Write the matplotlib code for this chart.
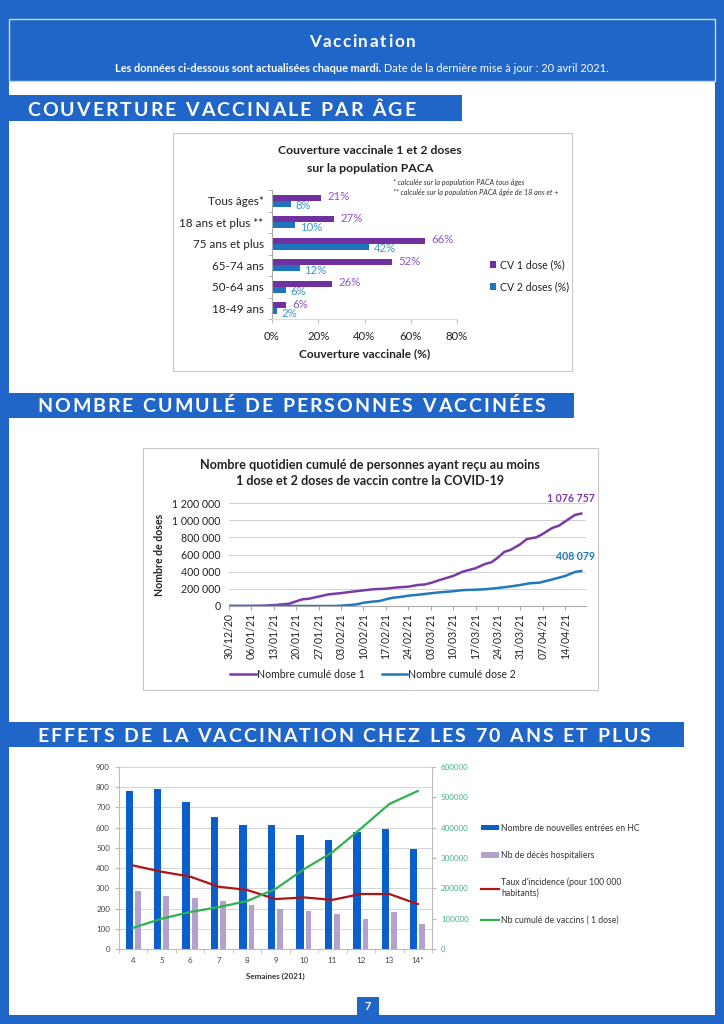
import matplotlib
matplotlib.use("Agg")
import matplotlib.pyplot as plt
import numpy as np
import pandas as pd
from matplotlib.patches import Rectangle
from matplotlib.font_manager import FontProperties
from matplotlib.textpath import TextToPath

# ---- data: coverage by age ----
age_groups = ["Tous âges*", "18 ans et plus **", "75 ans et plus", "65-74 ans", "50-64 ans", "18-49 ans"]
cv_dose1 = [21, 27, 66, 52, 26, 6]
cv_dose2 = [8, 10, 42, 12, 6, 2]

# ---- data: cumulative vaccinated ----
dose1_dates = ["30/12/20", "06/01/21", "10/01/21", "13/01/21", "16/01/21", "18/01/21", "20/01/21",
               "22/01/21", "24/01/21", "27/01/21", "30/01/21", "03/02/21", "06/02/21", "10/02/21",
               "13/02/21", "17/02/21", "20/02/21", "24/02/21", "27/02/21", "01/03/21", "03/03/21",
               "06/03/21", "10/03/21", "13/03/21", "15/03/21", "17/03/21", "20/03/21", "22/03/21",
               "24/03/21", "26/03/21", "28/03/21", "31/03/21", "02/04/21", "05/04/21", "07/04/21",
               "10/04/21", "12/04/21", "14/04/21", "17/04/21", "19/04/21"]
dose1_values = [0, 0, 3000, 10000, 20000, 28000, 55000,
                78000, 85000, 110000, 135000, 150000, 165000, 182000,
                195000, 202000, 215000, 225000, 245000, 250000, 268000,
                305000, 350000, 400000, 420000, 440000, 490000, 510000,
                565000, 630000, 655000, 720000, 780000, 800000, 840000,
                910000, 935000, 985000, 1060000, 1076757]
dose2_dates = ["30/12/20", "01/02/21", "03/02/21", "06/02/21", "08/02/21", "10/02/21", "13/02/21",
               "15/02/21", "17/02/21", "19/02/21", "22/02/21", "24/02/21", "28/02/21", "03/03/21",
               "06/03/21", "10/03/21", "13/03/21", "17/03/21", "20/03/21", "24/03/21", "28/03/21",
               "31/03/21", "03/04/21", "06/04/21", "10/04/21", "14/04/21", "17/04/21", "19/04/21"]
dose2_values = [0, 0, 4000, 12000, 20000, 38000, 52000,
                58000, 78000, 95000, 108000, 120000, 135000, 148000,
                160000, 172000, 185000, 190000, 195000, 210000, 228000,
                245000, 265000, 272000, 310000, 350000, 395000, 408079]

# ---- data: effects 70+ ----
weeks = ["4", "5", "6", "7", "8", "9", "10", "11", "12", "13", "14*"]
hc_entries = [783, 793, 725, 655, 615, 615, 562, 537, 578, 593, 493]
hosp_deaths = [287, 262, 250, 235, 220, 200, 188, 175, 150, 183, 124]
incidence = [413, 382, 358, 308, 292, 247, 255, 243, 272, 272, 222]
cum_vaccines = [70000, 100000, 122000, 138000, 158000, 198000, 263000, 319000, 397000, 478000, 521000]

BLUE = "#1f66c8"
PURPLE = "#7030a0"
BLUE2 = "#1f74bf"
FONT = "Lato"

W, H = 724, 1024
fig = plt.figure(figsize=(W / 100, H / 100), dpi=100)
fig.patch.set_facecolor(BLUE)
plt.rcParams["font.family"] = [FONT, "DejaVu Sans"]


def fx(x):
    return x / W


def fy(y):
    return 1 - y / H


def rect(x0, y0, x1, y1, z=-10, **kw):
    fig.add_artist(Rectangle((fx(x0), fy(y1)), (x1 - x0) / W, (y1 - y0) / H,
                             transform=fig.transFigure, zorder=z, **kw))


def axes_px(x0, y0, x1, y1):
    a = fig.add_axes([fx(x0), fy(y1), (x1 - x0) / W, (y1 - y0) / H])
    a.patch.set_alpha(0)
    return a


ttp = TextToPath()


def tracked(x, y, s, size, spacing, color="white", weight="bold", center=False):
    prop = FontProperties(family=FONT, weight=weight, size=size)
    widths = []
    for ch in s:
        if ch == " ":
            widths.append(0.28 * size * 100 / 72)
        else:
            w, h, d = ttp.get_text_width_height_descent(ch, prop, ismath=False)
            widths.append(w * 100 / 72)
    total = sum(widths) + spacing * (len(s) - 1)
    if center:
        x = x - total / 2
    for ch, w in zip(s, widths):
        fig.text(fx(x), fy(y), ch, fontproperties=prop, color=color, va="baseline", ha="left")
        x += w + spacing


# ---- page frame ----
rect(9, 82, 715, 1015, facecolor="white", edgecolor="none", z=-20)
rect(9, 19, 715, 81, facecolor=BLUE, edgecolor="#c9d9f2", linewidth=1)
tracked(362, 47, "Vaccination", 12.3, 1.7, center=True, weight="bold")
sub_bold = "Les données ci-dessous sont actualisées chaque mardi."
sub_reg = " Date de la dernière mise à jour : 20 avril 2021."
renderer = fig.canvas.get_renderer()
t1 = fig.text(0, fy(69), sub_bold, fontsize=7.9, fontweight="bold", color="white", va="center")
t2 = fig.text(0, fy(69), sub_reg, fontsize=7.9, color="white", va="center")
w1 = t1.get_window_extent(renderer).width
w2 = t2.get_window_extent(renderer).width
start = 362 - (w1 + w2) / 2
t1.set_x(fx(start))
t2.set_x(fx(start + w1))

# section headers
rect(9, 95, 462, 121, facecolor=BLUE, edgecolor="none")
tracked(27, 115.5, "COUVERTURE VACCINALE PAR ÂGE", 14, 2.1)
rect(9, 393, 574, 418, facecolor=BLUE, edgecolor="none")
tracked(37, 412.5, "NOMBRE CUMULÉ DE PERSONNES VACCINÉES", 14, 2.1)
rect(9, 722, 684, 747, facecolor=BLUE, edgecolor="none")
tracked(37, 741.5, "EFFETS DE LA VACCINATION CHEZ LES 70 ANS ET PLUS", 14, 2.1)

# page number
rect(357, 997, 379, 1016, facecolor=BLUE, edgecolor="none")
fig.text(fx(368), fy(1006), "7", color="white", fontsize=8, fontweight="bold", ha="center", va="center")

# ---- chart 1: coverage by age ----
rect(173, 133, 572, 371, facecolor="white", edgecolor="#c8c8c8", linewidth=0.8)
fig.text(fx(370), fy(151), "Couverture vaccinale 1 et 2 doses", fontsize=8.8, fontweight="bold",
         ha="center", va="center", color="#222222")
fig.text(fx(370), fy(168), "sur la population PACA", fontsize=8.8, fontweight="bold",
         ha="center", va="center", color="#222222")
fig.text(fx(393), fy(183), "* calculée sur la population PACA tous âges", fontsize=5.2,
         style="italic", color="#333333", va="center")
fig.text(fx(393), fy(193), "** calculée sur la population PACA âgée de 18 ans et +", fontsize=5.2,
         style="italic", color="#333333", va="center")

ax1 = axes_px(272, 190, 457, 319)
pos = np.arange(len(age_groups))
bh = 0.28
ax1.barh(pos - bh / 2, cv_dose1, height=bh, color=PURPLE, label="CV 1 dose (%)")
ax1.barh(pos + bh / 2, cv_dose2, height=bh, color=BLUE2, label="CV 2 doses (%)")
for p, v1, v2 in zip(pos, cv_dose1, cv_dose2):
    ax1.text(v1 + 2.8, p - bh / 2 - 0.05, f"{v1}%", color="#8f55c2", fontsize=8.2, va="center")
    ax1.text(v2 + 2.0, p + bh / 2 + 0.1, f"{v2}%", color="#3d94d2", fontsize=8.2, va="center")
ax1.set_ylim(len(age_groups) - 0.5, -0.5)
ax1.set_xlim(0, 80)
ax1.set_yticks(pos)
ax1.set_yticklabels(age_groups, fontsize=8.4, color="#222222")
ax1.set_xticks([0, 20, 40, 60, 80])
ax1.set_xticklabels(["0%", "20%", "40%", "60%", "80%"], fontsize=8.2, color="#222222")
ax1.set_yticks(np.arange(len(age_groups) + 1) - 0.5, minor=True)
ax1.tick_params(axis="y", which="major", length=0, pad=6)
ax1.tick_params(axis="y", which="minor", length=3, color="#aaaaaa")
ax1.tick_params(axis="x", length=3, color="#bbbbbb", pad=6)
ax1.set_xlabel("Couverture vaccinale (%)", fontsize=8.6, fontweight="bold", color="#222222", labelpad=4)
for s in ["top", "right"]:
    ax1.spines[s].set_visible(False)
ax1.spines["left"].set_color("#aaaaaa")
ax1.spines["bottom"].set_color("#dddddd")
ax1.legend(loc="center left", bbox_to_anchor=(fx(480), fy(276)), bbox_transform=fig.transFigure,
           frameon=False, fontsize=7.6, handlelength=0.6, handleheight=0.6, labelspacing=1.05,
           handletextpad=0.35, labelcolor="#222222")

# ---- chart 2: cumulative vaccinated ----
rect(143, 448, 598, 690, facecolor="white", edgecolor="#c8c8c8", linewidth=0.8)
fig.text(fx(370), fy(465), "Nombre quotidien cumulé de personnes ayant reçu au moins", fontsize=9.1,
         fontweight="bold", ha="center", va="center", color="#222222")
fig.text(fx(370), fy(481), "1 dose et 2 doses de vaccin contre la COVID-19", fontsize=9.1,
         fontweight="bold", ha="center", va="center", color="#222222")

ax2 = axes_px(229, 503, 586, 606)
d1 = pd.to_datetime(dose1_dates, format="%d/%m/%y")
d2 = pd.to_datetime(dose2_dates, format="%d/%m/%y")
ax2.plot(d1, dose1_values, color="#7b3aa6", lw=1.8, label="Nombre cumulé dose 1")
ax2.plot(d2, dose2_values, color="#2079bd", lw=1.8, label="Nombre cumulé dose 2")
ax2.set_ylim(0, 1200000)
ax2.set_yticks(np.arange(0, 1200001, 200000))
ax2.set_yticklabels([f"{v:,.0f}".replace(",", " ") for v in np.arange(0, 1200001, 200000)],
                    fontsize=7.6, color="#222222")
ticks = pd.date_range("2020-12-30", "2021-04-14", freq="7D")
ax2.set_xticks(ticks)
ax2.set_xticklabels([t.strftime("%d/%m/%y") for t in ticks], rotation=90, fontsize=7.6, color="#222222")
ax2.set_xlim(pd.Timestamp("2020-12-30"), pd.Timestamp("2021-04-20 12:00"))
ax2.grid(axis="y", color="#d0d0d0", lw=0.7)
ax2.set_axisbelow(True)
ax2.tick_params(axis="y", length=0, pad=6)
ax2.tick_params(axis="x", length=3, color="#aaaaaa", pad=2)
for s in ["top", "right", "left"]:
    ax2.spines[s].set_visible(False)
ax2.spines["bottom"].set_color("#aaaaaa")
ax2.set_ylabel("Nombre de doses", fontsize=7.6, fontweight="bold", color="#222222", labelpad=5)
ax2.annotate(f"{dose1_values[-1]:,}".replace(",", " "), (d1[-1], dose1_values[-1]),
             xytext=(10, 8), textcoords="offset points", ha="right", fontsize=7.6,
             fontweight="bold", color="#7b3aa6")
ax2.annotate(f"{dose2_values[-1]:,}".replace(",", " "), (d2[-1], dose2_values[-1]),
             xytext=(10, 8), textcoords="offset points", ha="right", fontsize=7.6,
             fontweight="bold", color="#2079bd")
ax2.legend(loc="center", bbox_to_anchor=(fx(373), fy(674)), bbox_transform=fig.transFigure,
           ncol=2, frameon=False, fontsize=7.6, handlelength=2.4, handletextpad=0.1,
           columnspacing=1.6, labelcolor="#222222")

# ---- chart 3: effects 70+ ----
ax3 = axes_px(119, 767, 432, 949)
x = np.arange(len(weeks))
b1 = ax3.bar(x - 0.14, hc_entries, width=0.26, color="#0a5fcc", label="Nombre de nouvelles entrées en HC")
b2 = ax3.bar(x + 0.16, hosp_deaths, width=0.2, color="#b3a3cc", label="Nb de décès hospitaliers")
l1, = ax3.plot(x, incidence, color="#b01515", lw=1.6, label="Taux d'incidence (pour 100 000\nhabitants)")
ax3.set_ylim(0, 900)
ax3.set_xlim(-0.5, len(weeks) - 0.5)
ax3.set_yticks(np.arange(0, 901, 100))
ax3.tick_params(axis="y", labelsize=5.8, labelcolor="#444444", length=3, color="#bbbbbb")
ax3.set_xticks(x)
ax3.set_xticklabels(weeks)
ax3.set_xticks(np.arange(len(weeks) + 1) - 0.5, minor=True)
ax3.tick_params(axis="x", which="major", length=0, labelsize=5.8, labelcolor="#444444", pad=6)
ax3.tick_params(axis="x", which="minor", length=3, color="#bbbbbb")
ax3.grid(axis="y", color="#cfcfcf", lw=0.6)
ax3.set_axisbelow(True)
ax3.set_xlabel("Semaines (2021)", fontsize=5.8, fontweight="bold", color="#333333", labelpad=6)
for s in ["top", "right"]:
    ax3.spines[s].set_visible(False)
ax3.spines["left"].set_color("#bbbbbb")
ax3.spines["bottom"].set_color("#bbbbbb")

ax3b = ax3.twinx()
l2, = ax3b.plot(x, cum_vaccines, color="#2eb24f", lw=1.6, label="Nb cumulé de vaccins ( 1 dose)")
ax3b.set_ylim(0, 600000)
ax3b.set_yticks(np.arange(0, 600001, 100000))
ax3b.tick_params(axis="y", labelsize=5.8, labelcolor="#45b088", length=3, color="#bbbbbb")
for s in ["top", "left", "bottom"]:
    ax3b.spines[s].set_visible(False)
ax3b.spines["right"].set_color("#bbbbbb")

ax3b.legend([b1, b2, l1, l2], [b1.get_label(), b2.get_label(), l1.get_label(), l2.get_label()],
            loc="upper left", bbox_to_anchor=(fx(473), fy(816)), bbox_transform=fig.transFigure,
            frameon=False, fontsize=6.2, handlelength=2.1, handleheight=0.6, handletextpad=0.25,
            labelspacing=2.1, labelcolor="#333333")

fig.savefig("out.png", dpi=100, facecolor=BLUE)
